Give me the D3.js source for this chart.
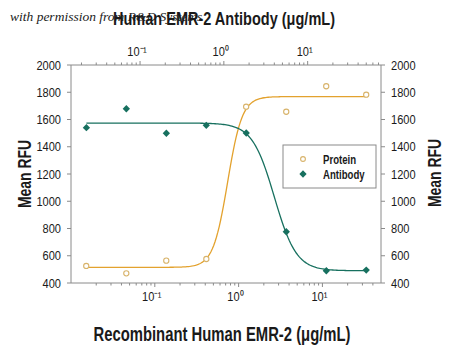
<!DOCTYPE html>
<html>
<head>
<meta charset="utf-8">
<script src="https://d3js.org/d3.v7.min.js"></script>
<style>
  html, body { margin: 0; padding: 0; background: #fff; }
  svg { display: block; }
  .cond { font-family: 'Liberation Sans', Arimo, Arial, sans-serif; }
</style>
</head>
<body>
<svg id="chart" width="450" height="349"></svg>
<script>
// Recombinant protein (bottom axis) and antibody (top axis) concentrations, µg/mL
const proteinConc = [0.0152, 0.0457, 0.137, 0.412, 1.23, 3.70, 11.1, 33.3];
const antibodyConc = [0.0229, 0.0686, 0.206, 0.617, 1.85, 5.56, 16.7, 50];

// Mean RFU readings
const proteinRFU = [525, 471, 564, 576, 1694, 1657, 1844, 1782];
const antibodyRFU = [1540, 1679, 1499, 1557, 1501, 776, 490, 495];

// Four-parameter logistic fits: [low-dose plateau, high-dose plateau, EC50, Hill slope]
const proteinFit = [515, 1768, 0.74, 5.0];
const antibodyFit = [1574, 490, 4.0, 3.3];

const yTicks = [400, 600, 800, 1000, 1200, 1400, 1600, 1800, 2000];
const decadeTicks = [0.1, 1, 10];
const decadeLabels = ["10\u207B\u00B9", "10\u2070", "10\u00B9"];

const seriesNames = ["Protein", "Antibody"];
const proteinColor = "#E3A22E";
const proteinMarker = "#D8B36A";
const antibodyColor = "#17705F";

const svg = d3.select("#chart");
const plot = { left: 71, right: 381, top: 65, bottom: 283 };

const xBottom = d3.scaleLog().domain([0.01, 50]).range([plot.left, plot.right]);
const xTop = d3.scaleLog().domain([0.015, 75]).range([plot.left, plot.right]);
const y = d3.scaleLinear().domain([400, 2000]).range([plot.bottom, plot.top]);

const axisGrey = "#8a8a8a";
const textColor = "#1a1a1a";

// Narrow a text element horizontally, either to a fixed width or by a factor
function squeeze(sel, factor, width) {
  sel.each(function () {
    const w = width || this.getComputedTextLength() * factor;
    d3.select(this).attr("textLength", w).attr("lengthAdjust", "spacingAndGlyphs");
  });
}

// Credit line sits beneath the top title
svg.append("text")
  .attr("x", 10).attr("y", 21)
  .attr("font-family", "'Liberation Serif', 'DejaVu Serif', serif")
  .attr("font-style", "italic")
  .attr("font-size", 13.5)
  .attr("fill", "#222")
  .text("with permission from R&D Systems");

// Axis titles
svg.append("text").attr("class", "cond")
  .attr("x", 224).attr("y", 25)
  .attr("text-anchor", "middle")
  .attr("font-size", 18.5).attr("font-weight", "bold").attr("fill", textColor)
  .text("Human EMR-2 Antibody (\u03BCg/mL)")
  .call(squeeze, 0, 222);

svg.append("text").attr("class", "cond")
  .attr("x", 222).attr("y", 341)
  .attr("text-anchor", "middle")
  .attr("font-size", 19.5).attr("font-weight", "bold").attr("fill", textColor)
  .text("Recombinant Human EMR-2 (\u03BCg/mL)")
  .call(squeeze, 0, 257);

svg.append("text").attr("class", "cond")
  .attr("transform", "translate(31,174) rotate(-90)")
  .attr("text-anchor", "middle")
  .attr("font-size", 18).attr("font-weight", "bold").attr("fill", textColor)
  .text("Mean RFU")
  .call(squeeze, 0, 68);

svg.append("text").attr("class", "cond")
  .attr("transform", "translate(441,173) rotate(-90)")
  .attr("text-anchor", "middle")
  .attr("font-size", 18).attr("font-weight", "bold").attr("fill", textColor)
  .text("Mean RFU")
  .call(squeeze, 0, 68);

// Log axes: minor ticks from the scale, labelled decades with superscript exponents
function logAxis(scale, orient, yPos) {
  const dir = orient === "top" ? -1 : 1;
  const g = svg.append("g");
  g.append("line")
    .attr("x1", plot.left).attr("x2", plot.right)
    .attr("y1", yPos).attr("y2", yPos)
    .attr("stroke", axisGrey).attr("stroke-width", 1);
  const ticks = scale.ticks().filter(t => scale(t) > plot.left + 1 && scale(t) < plot.right - 1);
  g.selectAll("line.tick").data(ticks).join("line")
    .attr("class", "tick")
    .attr("x1", d => scale(d)).attr("x2", d => scale(d))
    .attr("y1", yPos)
    .attr("y2", d => yPos + dir * (decadeTicks.some(m => Math.abs(m - d) / m < 1e-6) ? 4 : 2.5))
    .attr("stroke", axisGrey).attr("stroke-width", 1);
  g.selectAll("text").data(decadeTicks).join("text")
    .attr("class", "cond")
    .attr("x", d => scale(d) - 3)
    .attr("y", orient === "top" ? yPos - 9 : yPos + 18)
    .attr("text-anchor", "middle")
    .attr("font-size", 13).attr("fill", textColor)
    .text((d, i) => decadeLabels[i])
    .call(squeeze, 0.85);
}
logAxis(xBottom, "bottom", plot.bottom);
logAxis(xTop, "top", plot.top);

// Linear RFU axes on both sides
function rfuAxis(xPos, side) {
  const dir = side === "left" ? -1 : 1;
  const g = svg.append("g");
  g.append("line")
    .attr("x1", xPos).attr("x2", xPos)
    .attr("y1", plot.top).attr("y2", plot.bottom)
    .attr("stroke", axisGrey).attr("stroke-width", 1);
  g.selectAll("line.tick").data(yTicks).join("line")
    .attr("class", "tick")
    .attr("x1", xPos).attr("x2", xPos + dir * 4)
    .attr("y1", d => y(d)).attr("y2", d => y(d))
    .attr("stroke", axisGrey);
  g.selectAll("text").data(yTicks).join("text")
    .attr("class", "cond")
    .attr("x", xPos + dir * 10)
    .attr("y", d => y(d) + 4.5)
    .attr("text-anchor", side === "left" ? "end" : "start")
    .attr("font-size", 13).attr("fill", textColor)
    .text(d => d)
    .call(squeeze, 0.85);
}
rfuAxis(plot.left, "left");
rfuAxis(plot.right, "right");

// Fitted curves, sampled across each series' concentration span
function logistic(fit, c) {
  const [start, end, ec50, hill] = fit;
  return end + (start - end) / (1 + Math.pow(c / ec50, hill));
}
function fitPath(conc, fit, scale) {
  const lo = Math.log10(d3.min(conc)), hi = Math.log10(d3.max(conc));
  const pts = d3.range(0, 201).map(i => Math.pow(10, lo + (hi - lo) * i / 200));
  return d3.line()
    .x(c => scale(c))
    .y(c => y(logistic(fit, c)))(pts);
}
svg.append("path")
  .attr("d", fitPath(proteinConc, proteinFit, xBottom))
  .attr("fill", "none").attr("stroke", proteinColor).attr("stroke-width", 1.3);
svg.append("path")
  .attr("d", fitPath(antibodyConc, antibodyFit, xTop))
  .attr("fill", "none").attr("stroke", antibodyColor).attr("stroke-width", 1.3);

// Data markers
const diamond = d3.symbol().type(d3.symbolDiamond2).size(34);
svg.append("g").selectAll("circle")
  .data(proteinConc.map((c, i) => [c, proteinRFU[i]]))
  .join("circle")
  .attr("cx", d => xBottom(d[0])).attr("cy", d => y(d[1]))
  .attr("r", 2.6)
  .attr("fill", "#fff").attr("stroke", proteinMarker).attr("stroke-width", 1.1);
svg.append("g").selectAll("path")
  .data(antibodyConc.map((c, i) => [c, antibodyRFU[i]]))
  .join("path")
  .attr("d", diamond)
  .attr("transform", d => `translate(${xTop(d[0])},${y(d[1])})`)
  .attr("fill", antibodyColor);

// Legend
const legend = svg.append("g");
legend.append("rect")
  .attr("x", 283).attr("y", 145).attr("width", 93).attr("height", 43)
  .attr("fill", "#fff").attr("stroke", "#8a8a8a").attr("stroke-width", 1);
legend.append("circle")
  .attr("cx", 303).attr("cy", 159).attr("r", 2.4)
  .attr("fill", "#fff").attr("stroke", proteinMarker).attr("stroke-width", 1.1);
legend.append("path")
  .attr("d", diamond)
  .attr("transform", "translate(303,174)")
  .attr("fill", antibodyColor);
legend.selectAll("text").data(seriesNames).join("text")
  .attr("class", "cond")
  .attr("x", 323).attr("y", (d, i) => 163.5 + i * 15.5)
  .attr("font-size", 12).attr("font-weight", "bold").attr("fill", textColor)
  .text(d => d)
  .call(squeeze, 0.8);
</script>
</body>
</html>
